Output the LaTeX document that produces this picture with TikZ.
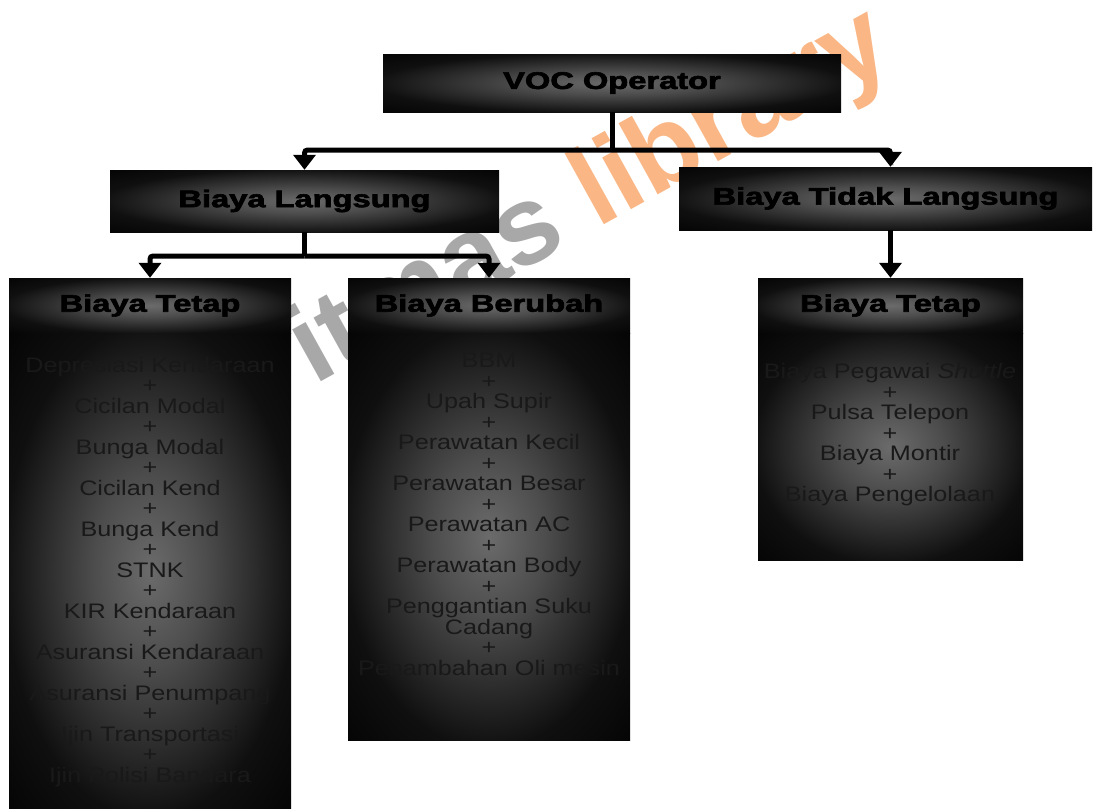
\documentclass[tikz,border=0pt]{standalone}
\usepackage{fontspec}
\setmainfont{Liberation Sans}[BoldFeatures={FakeBold=2.5}]
\usepackage{graphicx}
\usetikzlibrary{positioning, calc, arrows.meta}
\definecolor{markorange}{RGB}{250,182,132}
\definecolor{markgray}{RGB}{168,168,168}
\pgfdeclareradialshading{glow}{\pgfpoint{0bp}{0bp}}{color(0bp)=(black!58); color(10bp)=(black!70); color(26bp)=(black!94); color(40bp)=(black); color(50bp)=(black)}
\newcommand{\wide}[1]{\scalebox{1.36}[1]{#1}}

\tikzset{
  box/.style={rectangle, shading=glow, inner sep=0pt, font=\fontsize{24}{24}\selectfont\bfseries},
  list/.style={align=center, xscale=1.2, inner sep=0pt, text=black!90, font=\fontsize{21}{20.5}\selectfont},
  conn/.style={line width=5pt, rounded corners=3pt},
  arr/.style={conn, -{Triangle[width=22pt,length=15pt]}}
}

\begin{document}
\begin{tikzpicture}[x=1pt, y=-1pt]
		\useasboundingbox (0,0) rectangle (1093,809);
		% watermark
		\node[rotate=29, anchor=base west, inner sep=0pt, font=\fontsize{112}{112}\selectfont\sffamily\fontspec{Liberation Sans Bold}] (mark) at (314,386) {\textcolor{markgray}{itmas} \textcolor{markorange}{library}};
		% top level
		\node[box, minimum width=458pt, minimum height=58pt] (voc) at (612,83) {\wide{VOC Operator}};
		\node[box, minimum width=389pt, minimum height=62pt] (langsung) at (304.5,201) {\wide{Biaya Langsung}};
		\node[box, minimum width=413pt, minimum height=63pt] (tidak) at (885.5,198.5) {\wide{Biaya Tidak Langsung}};
		% cost groups
		\node[box, minimum width=282pt, minimum height=55pt] (tetapA) at (150,305.5) {\wide{Biaya Tetap}};
		\node[box, minimum width=282pt, minimum height=476pt, below=0pt of tetapA] (tetapAbody) {};
		\node[box, minimum width=282pt, minimum height=55pt] (berubah) at (489,305.5) {\wide{Biaya Berubah}};
		\node[box, minimum width=282pt, minimum height=407pt, below=0pt of berubah] (berubahbody) {};
		\node[box, minimum width=265pt, minimum height=55pt] (tetapC) at (890.5,305.5) {\wide{Biaya Tetap}};
		\node[box, minimum width=265pt, minimum height=227pt, below=0pt of tetapC] (tetapCbody) {};
		% items
		\node[list] (tetapAlist) at (150,572) {Depresiasi Kendaraan\\+\\Cicilan Modal\\+\\Bunga Modal\\+\\Cicilan Kend\\+\\Bunga Kend\\+\\STNK\\+\\KIR Kendaraan\\+\\Asuransi Kendaraan\\+\\Asuransi Penumpang\\+\\Ijin Transportasi\\+\\Ijin Polisi Bandara};
		\node[list] (berubahlist) at (489,514.5) {BBM\\+\\Upah Supir\\+\\Perawatan Kecil\\+\\Perawatan Besar\\+\\Perawatan AC\\+\\Perawatan Body\\+\\Penggantian Suku\\Cadang\\+\\Penambahan Oli mesin};
		\node[list] (tetapClist) at (890,435) {Biaya Pegawai \textit{Shuttle}\\+\\Pulsa Telepon\\+\\Biaya Montir\\+\\Biaya Pengelolaan};
		% connectors
		\coordinate (splitA) at (612,150);
		\coordinate (splitB) at (304.5,256);
		\draw[conn] (voc.south) -- (splitA);
		\draw[arr] (splitA) -| (langsung.north);
		\draw[arr] (splitA) -| (tidak.north -| tetapC.north);
		\draw[conn] (langsung.south) -- (splitB);
		\draw[arr] (splitB) -| (tetapA.north);
		\draw[arr] (splitB) -| (berubah.north);
		\draw[arr] (tidak.south -| tetapC.north) -- (tetapC.north);
\end{tikzpicture}
\end{document}
